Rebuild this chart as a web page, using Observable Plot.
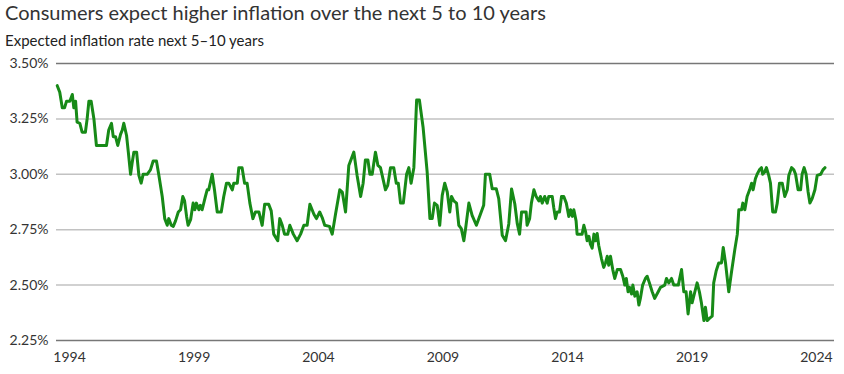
<!DOCTYPE html>
<html><head><meta charset="utf-8">
<script src="https://cdn.jsdelivr.net/npm/d3@7"></script>
<script src="https://cdn.jsdelivr.net/npm/@observablehq/plot@0.6"></script>
<style>
body{margin:0;background:#fff;font-family:Lato,"Open Sans",sans-serif;}
#head{position:relative;height:52px;width:844px;}
#title{position:absolute;left:5px;top:0px;font-size:20px;color:#333;white-space:nowrap;}
#subtitle{position:absolute;left:5px;top:31px;font-size:15px;color:#222;white-space:nowrap;}
#chart svg{display:block;}
</style></head><body>
<div id="head"><div id="title"></div><div id="subtitle"></div></div>
<div id="chart"></div>
<script>
const titleText = "Consumers expect higher inflation over the next 5 to 10 years";
const subtitleText = "Expected inflation rate next 5\u201310 years";

const dates = [
1993.29,1993.39,1993.49,1993.58,1993.66,1993.79,1993.89,1993.95,1994.02,1994.08,1994.19,1994.28,1994.41,1994.48,1994.55,1994.64,1994.75,1994.85,1995.25,1995.34,1995.45,1995.52,1995.61,1995.70,1995.81,1995.88,1995.94,1996.05,1996.12,1996.21,1996.27,1996.34,1996.45,1996.54,1996.63,1996.71,1996.87,1997.00,1997.11,1997.24,1997.33,1997.47,1997.57,1997.67,1997.73,1997.83,1997.91,1998.00,1998.11,1998.20,1998.29,1998.36,1998.44,1998.50,1998.60,1998.70,1998.77,1998.83,1998.93,1998.99,1999.06,
1999.19,1999.26,1999.32,1999.46,1999.55,1999.66,1999.82,1999.92,2000.03,2000.12,2000.26,2000.32,2000.46,2000.52,2000.65,2000.75,2000.85,2000.96,2001.08,2001.18,2001.32,2001.45,2001.55,2001.71,2001.81,2001.91,2002.07,2002.15,2002.25,2002.34,2002.47,2002.55,2002.69,2002.84,2002.98,2003.11,2003.24,2003.35,2003.51,2003.61,2003.74,2003.84,2003.94,2004.13,2004.24,2004.37,2004.54,2004.64,2004.77,2004.90,
2005.10,2005.23,2005.37,2005.47,2005.56,2005.66,2005.74,2005.83,2005.96,2006.06,2006.16,2006.36,2006.45,2006.56,2006.69,2006.79,2006.87,2006.96,2007.07,2007.20,2007.29,2007.38,2007.49,2007.60,2007.71,2007.86,2008.02,2008.13,2008.22,2008.31,2008.42,2008.52,2008.62,2008.72,2008.82,2008.92,2008.99,2009.08,2009.19,2009.28,2009.38,2009.48,2009.55,2009.68,2009.81,2009.98,2010.14,2010.27,2010.34,2010.51,2010.61,2010.77,2010.87,2011.01,2011.14,
2011.27,2011.38,2011.51,2011.61,2011.70,2011.78,2011.87,2011.96,2012.00,2012.10,2012.17,2012.27,2012.36,2012.47,2012.53,2012.60,2012.70,2012.80,2012.86,2013.00,2013.06,2013.13,2013.20,2013.29,2013.37,2013.46,2013.56,2013.66,2013.73,2013.80,2013.86,2013.95,2013.99,2014.19,2014.26,2014.33,2014.39,2014.46,2014.52,2014.59,2014.66,2014.72,2014.79,2014.85,2014.96,2015.05,2015.12,2015.19,2015.25,2015.32,2015.41,2015.49,2015.59,2015.72,2015.81,2015.89,2015.95,2016.02,2016.08,2016.16,2016.21,2016.29,2016.38,2016.45,2016.51,2016.60,2016.71,2016.78,2016.87,2016.98,2017.08,
2017.22,2017.31,2017.48,2017.55,2017.64,2017.75,2017.84,2018.02,2018.15,2018.24,2018.33,2018.41,2018.51,2018.57,2018.68,2018.77,2018.86,2018.94,2019.04,2019.10,2019.17,2019.26,2019.37,2019.43,2019.53,2019.63,2019.74,2019.81,2019.90,2020.03,2020.14,2020.27,2020.37,2020.43,2020.54,2020.59,2020.67,2020.76,2020.86,2020.94,2021.00,2021.09,2021.16,2021.25,2021.33,2021.38,2021.46,2021.53,2021.62,2021.69,2021.78,2021.89,2021.96,2022.05,2022.16,2022.26,2022.36,2022.42,2022.53,2022.62,2022.69,2022.79,2022.89,2022.95,2023.03,2023.11,2023.19,2023.26,2023.35,2023.46,2023.55,2023.69,2023.78,2023.86
];
const values = [
3.40,3.37,3.30,3.30,3.33,3.33,3.36,3.30,3.33,3.235,3.23,3.19,3.19,3.25,3.33,3.33,3.25,3.13,3.13,3.20,3.23,3.17,3.17,3.13,3.18,3.20,3.23,3.175,3.10,3.00,3.05,3.10,3.10,2.995,2.96,3.00,3.00,3.02,3.06,3.06,3.00,2.90,2.80,2.77,2.80,2.77,2.765,2.79,2.83,2.84,2.90,2.88,2.81,2.77,2.795,2.87,2.84,2.87,2.84,2.86,2.84,
2.90,2.93,2.93,3.00,2.93,2.83,2.83,2.90,2.96,2.96,2.93,2.96,2.96,3.03,3.03,2.96,2.96,2.87,2.80,2.83,2.83,2.77,2.865,2.865,2.835,2.73,2.70,2.80,2.77,2.73,2.73,2.77,2.73,2.70,2.73,2.77,2.77,2.865,2.82,2.80,2.83,2.805,2.77,2.765,2.73,2.82,2.93,2.92,2.83,3.04,
3.10,2.995,2.90,2.96,3.065,3.065,3.00,3.00,3.10,3.04,3.03,2.93,2.95,3.03,3.03,2.96,2.96,2.87,2.87,3.00,3.03,2.96,3.03,3.335,3.335,3.21,3.01,2.80,2.80,2.87,2.86,2.77,2.905,2.96,2.92,2.83,2.90,2.88,2.87,2.77,2.755,2.70,2.755,2.87,2.815,2.77,2.82,2.86,3.00,3.00,2.935,2.935,2.89,2.725,2.70,
2.776,2.934,2.866,2.776,2.73,2.83,2.83,2.83,2.77,2.80,2.87,2.93,2.90,2.88,2.90,2.87,2.90,2.87,2.90,2.90,2.85,2.80,2.83,2.83,2.90,2.90,2.87,2.81,2.84,2.81,2.84,2.79,2.73,2.73,2.77,2.74,2.70,2.72,2.685,2.667,2.73,2.70,2.733,2.68,2.62,2.58,2.60,2.63,2.59,2.63,2.57,2.53,2.57,2.57,2.54,2.50,2.53,2.47,2.49,2.46,2.50,2.45,2.47,2.41,2.44,2.50,2.53,2.54,2.51,2.47,2.44,
2.47,2.49,2.50,2.53,2.51,2.53,2.50,2.50,2.57,2.47,2.47,2.37,2.47,2.42,2.47,2.51,2.47,2.42,2.34,2.40,2.34,2.35,2.36,2.51,2.565,2.60,2.60,2.67,2.60,2.47,2.56,2.66,2.73,2.84,2.84,2.87,2.84,2.90,2.93,2.96,2.93,2.98,3.00,3.02,3.03,3.00,3.01,3.03,2.995,2.96,2.83,2.83,2.87,2.96,2.96,2.90,2.93,2.995,3.03,3.02,3.00,2.93,2.93,3.00,3.03,3.00,2.92,2.87,2.89,2.93,2.995,3.00,3.02,3.03
];

const yTicks = [2.25, 2.5, 2.75, 3.0, 3.25, 3.5];
const yTickLabels = ["2.25%", "2.50%", "2.75%", "3.00%", "3.25%", "3.50%"];
const yDarkTicks = [2.25, 3.5];
const yLightTicks = [2.5, 2.75, 3.0, 3.25];
// category-style year labels, positioned where the reference places them
const xTickPositions = [1993.78, 1998.74, 2003.69, 2008.65, 2013.61, 2018.57, 2023.52];
const xTickLabels = ["1994", "1999", "2004", "2009", "2014", "2019", "2024"];

document.getElementById("title").textContent = titleText;
document.getElementById("subtitle").textContent = subtitleText;

const data = dates.map((d, i) => ({date: d, value: values[i]}));

const chart = Plot.plot({
  width: 844,
  height: 322,
  marginLeft: 56,
  marginRight: 10,
  marginTop: 11,
  marginBottom: 34,
  style: {fontFamily: "Lato, 'Open Sans', sans-serif", fontSize: "14px", color: "#333", background: "white"},
  x: {domain: [1993.26, 2024.24]},
  y: {domain: [2.25, 3.5]},
  marks: [
    Plot.ruleY(yLightTicks, {stroke: "#c2c2c2", strokeWidth: 1.5}),
    Plot.ruleY(yDarkTicks, {stroke: "#777", strokeWidth: 1.5}),
    Plot.axisY({ticks: yTicks, tickFormat: d => yTickLabels[yTicks.indexOf(d)], tickSize: 0, tickPadding: 8, label: null}),
    Plot.axisX({ticks: xTickPositions, tickFormat: d => xTickLabels[xTickPositions.indexOf(d)], tickSize: 0, tickPadding: 12, label: null}),
    Plot.line(data, {x: "date", y: "value", stroke: "#178a17", strokeWidth: 3, strokeLinejoin: "round", strokeLinecap: "round"})
  ]
});
document.getElementById("chart").appendChild(chart);
</script>
</body></html>
